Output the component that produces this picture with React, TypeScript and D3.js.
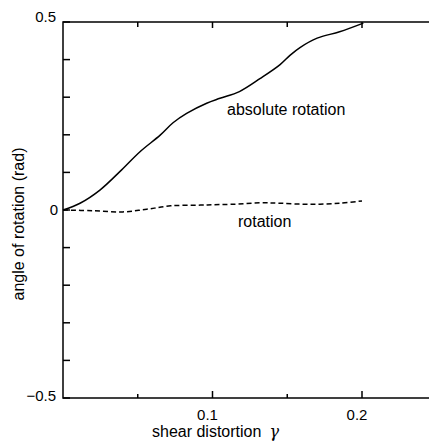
import React from "react";
import * as d3 from "d3";

const absGamma = [0, 0.0114, 0.0247, 0.038, 0.0515, 0.065, 0.0736, 0.0827, 0.0961, 0.105, 0.118, 0.132, 0.145, 0.152, 0.1585, 0.17, 0.185, 0.2009];
const absRot = [0, 0.018, 0.053, 0.102, 0.155, 0.199, 0.232, 0.257, 0.284, 0.297, 0.315, 0.35, 0.386, 0.412, 0.432, 0.457, 0.474, 0.497];

const rotGamma = [0, 0.02, 0.04, 0.056, 0.072, 0.092, 0.1, 0.112, 0.132, 0.145, 0.165, 0.185, 0.2];
const rotVal = [0, -0.002, -0.005, 0.002, 0.011, 0.013, 0.014, 0.015, 0.019, 0.018, 0.015, 0.018, 0.024];

const yTicks = [-0.5, -0.4, -0.3, -0.2, -0.1, 0, 0.1, 0.2, 0.3, 0.4, 0.5];
const yTickLabels = [
  { v: 0.5, t: "0.5" },
  { v: 0, t: "0" },
  { v: -0.5, t: "\u22120.5" },
];
const xMajor = [0.1, 0.2];
const xMinor = [0.05, 0.15];
const xTickLabels = ["0.1", "0.2"];

export default function App() {
  const W = 429, H = 441;
  const x = d3.scaleLinear().domain([0, 0.25]).range([63, 436.75]);
  const y = d3.scaleLinear().domain([-0.5, 0.5]).range([398, 22]);
  const line = d3.line<[number, number]>().x(d => x(d[0])).y(d => y(d[1])).curve(d3.curveCatmullRom.alpha(0.5));
  const absPath = line(absGamma.map((g, i) => [g, absRot[i]] as [number, number])) || "";
  const rotPath = line(rotGamma.map((g, i) => [g, rotVal[i]] as [number, number])) || "";
  const x0 = x(0), x1 = x(0.25), yT = y(0.5), yB = y(-0.5);
  const font = "Liberation Sans, Arial, Helvetica, sans-serif";
  return (
    <svg width={W} height={H} style={{ position: "absolute", left: 0, top: 0, background: "#fff" }}
      fontFamily={font}>
      <rect x={0} y={0} width={W} height={H} fill="#fff" />
      <rect x={x0} y={yT} width={x1 - x0} height={yB - yT} fill="none" stroke="#000" strokeWidth={1.5} />
      {yTicks.map(v => (
        <g key={"yt" + v}>
          <line x1={x0} x2={x0 + 7} y1={y(v)} y2={y(v)} stroke="#000" strokeWidth={1.5} />
          <line x1={x1} x2={x1 - 7} y1={y(v)} y2={y(v)} stroke="#000" strokeWidth={1.5} />
        </g>
      ))}
      {xMajor.map(v => (
        <g key={"xm" + v}>
          <line x1={x(v)} x2={x(v)} y1={yB} y2={yB - 7} stroke="#000" strokeWidth={1.5} />
          <line x1={x(v)} x2={x(v)} y1={yT} y2={yT + 6} stroke="#000" strokeWidth={1.5} />
        </g>
      ))}
      {xMinor.map(v => (
        <g key={"xn" + v}>
          <line x1={x(v)} x2={x(v)} y1={yB} y2={yB - 4} stroke="#000" strokeWidth={1.5} />
          <line x1={x(v)} x2={x(v)} y1={yT} y2={yT + 5} stroke="#000" strokeWidth={1.5} />
        </g>
      ))}
      {yTickLabels.map(d => (
        <text key={"yl" + d.v} x={d.v === 0 ? 58 : 56} y={y(d.v)} dy={d.v === 0.5 ? "0" : d.v === 0 ? "0.36em" : "0.2em"}
          textAnchor="end" fontSize={15}>{d.t}</text>
      ))}
      {xMajor.map((v, i) => (
        <text key={"xl" + v} x={x(v) - 5} y={420} textAnchor="middle" fontSize={15}>{xTickLabels[i]}</text>
      ))}
      <path d={absPath} fill="none" stroke="#000" strokeWidth={1.5} />
      <path d={rotPath} fill="none" stroke="#000" strokeWidth={1.5} strokeDasharray="5,3" />
      <text x={227} y={115} fontSize={16}>absolute rotation</text>
      <text x={238} y={227} fontSize={16}>rotation</text>
      <text x={152} y={437} fontSize={16}>
        shear distortion<tspan fontStyle="italic" fontFamily="DejaVu Serif, serif" dx={8}>γ</tspan>
      </text>
      <text transform={`translate(24,224) rotate(-90)`} textAnchor="middle" fontSize={16}>angle of rotation (rad)</text>
    </svg>
  );
}
